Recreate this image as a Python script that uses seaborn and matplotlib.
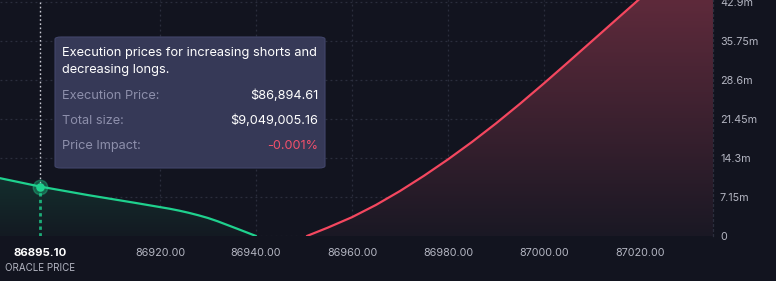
import numpy as np
import pandas as pd
import matplotlib
matplotlib.use("Agg")
import matplotlib.pyplot as plt
import seaborn as sns
from matplotlib.patches import FancyBboxPatch
from matplotlib.colors import to_rgb

# ---------------- data ----------------
long_price = [86880.0, 86886.67, 86895.10, 86905.0, 86915.0, 86920.0, 86922.0,
              86924.0, 86926.0, 86928.0, 86930.0, 86932.0, 86934.0, 86936.0,
              86938.0, 86940.0]
long_size_m = [11.2, 10.6, 9.05, 7.5, 6.05, 5.3, 5.0, 4.65, 4.25, 3.8, 3.3,
               2.7, 2.03, 1.36, 0.68, 0.0]

short_price = [86950.6, 86955.0, 86960.0, 86965.0, 86970.0, 86975.0, 86980.0,
               86985.0, 86990.0, 86995.0, 87000.0, 87005.0, 87010.0, 87015.0,
               87020.0, 87025.0, 87030.0, 87036.0]
short_size_m = [0.0, 1.55, 3.45, 5.7, 8.25, 11.05, 14.05, 17.25, 20.65, 24.25,
                28.0, 31.85, 35.75, 39.65, 43.55, 47.45, 51.35, 56.0]

oracle_price = 86895.10
oracle_size_m = 9.05
oracle_label = "86895.10"
oracle_caption = "ORACLE PRICE"

x_ticks = [86920, 86940, 86960, 86980, 87000, 87020]
x_tick_labels = ["86920.00", "86940.00", "86960.00", "86980.00", "87000.00", "87020.00"]
y_ticks = [0, 7.15, 14.3, 21.45, 28.6, 35.75, 42.9]
y_tick_labels = ["0", "7.15m", "14.3m", "21.45m", "28.6m", "35.75m", "42.9m"]

tip_title = "Execution prices for increasing shorts and\ndecreasing longs."
tip_keys = ["Execution Price:", "Total size:", "Price Impact:"]
tip_vals = ["$86,894.61", "$9,049,005.16", "-0.001%"]

# ---------------- style ----------------
BG = "#12141f"
GRID = "#2b2e3d"
TICK = "#b3b5c1"
GREEN = "#1fd18e"
RED = "#f4475f"

W, H = 776, 281
sns.set_theme(style="dark", rc={"axes.facecolor": BG, "figure.facecolor": BG})
plt.rcParams["font.family"] = ["Inter", "DejaVu Sans"]

fig = plt.figure(figsize=(W / 100, H / 100), dpi=100)
ax = fig.add_axes([0, (H - 236) / H, 713 / W, 236 / H])
ax.set_facecolor(BG)

XMIN, XMAX = 86886.67, 87035.2
YMAX = 43.27

long_df = pd.DataFrame({"price": long_price, "size": long_size_m})
short_df = pd.DataFrame({"price": short_price, "size": short_size_m})


def grad_fill(x, y, c_top, a_top, c_bot, a_bot, ytop):
    poly = ax.fill_between(x, y, 0, color="none", lw=0)
    n = 256
    grad = np.zeros((n, 1, 4))
    t = np.linspace(0, 1, n)[:, None]
    ct, cb = np.array(to_rgb(c_top)), np.array(to_rgb(c_bot))
    grad[:, 0, :3] = cb + (ct - cb) * t
    grad[:, 0, 3] = (a_bot + (a_top - a_bot) * t)[:, 0]
    img = ax.imshow(grad, extent=[min(x), max(x), 0, ytop], aspect="auto",
                    origin="lower", zorder=1, interpolation="bilinear")
    img.set_clip_path(poly.get_paths()[0], ax.transData)


grad_fill(short_price, short_size_m, "#5e2a3b", 1.0, "#1a1824", 1.0, YMAX)
grad_fill(long_price, long_size_m, "#14302e", 1.0, "#131a22", 1.0, 11.5)

sns.lineplot(data=long_df, x="price", y="size", color=GREEN, lw=1.6, ax=ax, zorder=4)
sns.lineplot(data=short_df, x="price", y="size", color=RED, lw=1.6, ax=ax, zorder=4)

# oracle marker line
ax.plot([oracle_price, oracle_price], [oracle_size_m, YMAX], color="#c9cad3",
        lw=1.0, ls=(0, (1.2, 1.8)), zorder=3)
ax.plot([oracle_price, oracle_price], [0, oracle_size_m], color=GREEN,
        lw=2.0, ls=(0, (1.2, 1.2)), alpha=0.8, zorder=3)
ax.scatter([oracle_price], [oracle_size_m], s=110, color=GREEN, alpha=0.35,
           edgecolor=GREEN, lw=1.0, zorder=5)
ax.scatter([oracle_price], [oracle_size_m], s=38, color=GREEN, zorder=6, lw=0)

ax.set_xlim(XMIN, XMAX)
ax.set_ylim(0, YMAX)
ax.set_xticks(x_ticks)
ax.set_xticklabels(x_tick_labels)
ax.set_yticks(y_ticks)
ax.set_yticklabels(y_tick_labels)
ax.yaxis.tick_right()
ax.tick_params(axis="both", length=0, colors=TICK, labelsize=7.8)
ax.tick_params(axis="x", pad=9)
ax.tick_params(axis="y", pad=5)
for lbl in ax.get_yticklabels():
    lbl.set_horizontalalignment("left")
ax.set_xlabel("")
ax.set_ylabel("")
ax.grid(True, color=GRID, lw=0.9, ls=(0, (1.5, 2.5)))
ax.set_axisbelow(True)
for s in ["top", "left", "bottom"]:
    ax.spines[s].set_visible(False)
ax.spines["right"].set_color(GRID)
ax.spines["right"].set_linestyle((0, (1.5, 2.5)))
ax.spines["right"].set_linewidth(0.9)

# oracle price label
ax.text(oracle_price, -0.072, oracle_label, transform=ax.get_xaxis_transform(),
        ha="center", va="center", color="white", fontsize=8.2, fontweight="bold")
ax.text(oracle_price, -0.135, oracle_caption, transform=ax.get_xaxis_transform(),
        ha="center", va="center", color=TICK, fontsize=7.0)


# ---------------- tooltip ----------------
def fx(px):
    return px / W


def fy(py):
    return 1 - py / H


box = FancyBboxPatch((fx(55), fy(168)), fx(325) - fx(55), fy(37) - fy(168),
                     boxstyle="round,pad=0,rounding_size=0.008",
                     transform=fig.transFigure, facecolor="#363957",
                     edgecolor="#41456a", lw=0.8, zorder=10)
fig.patches.append(box)
fig.text(fx(62), fy(61.5), tip_title, color="white", fontsize=9.2, ha="left",
         va="center", linespacing=1.45, zorder=11)
rows_y = [96, 121, 146]
val_colors = ["white", "white", "#f0506b"]
for key, val, yy, vc in zip(tip_keys, tip_vals, rows_y, val_colors):
    fig.text(fx(62), fy(yy), key, color="#8d8fab", fontsize=9.2, ha="left",
             va="center", zorder=11)
    fig.text(fx(318), fy(yy), val, color=vc, fontsize=9.2, ha="right",
             va="center", zorder=11)

fig.savefig("out.png", dpi=100, facecolor=BG)
